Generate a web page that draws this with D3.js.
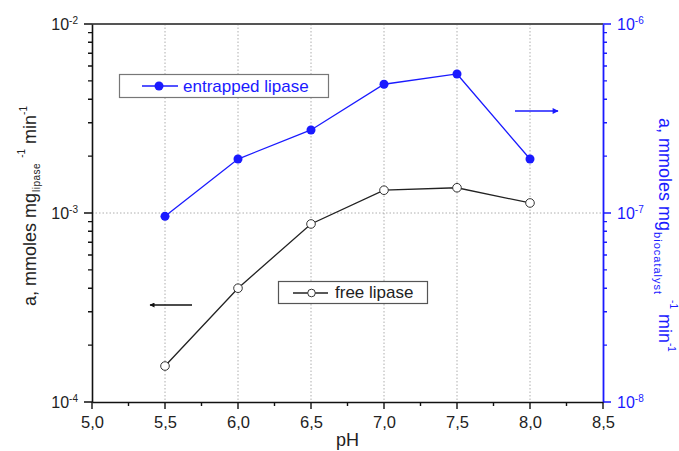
<!DOCTYPE html>
<html><head><meta charset="utf-8">
<script src="https://cdn.jsdelivr.net/npm/d3@7/dist/d3.min.js"></script>
<style>body{margin:0;background:#fff}svg{font-family:"Liberation Sans",Arial,sans-serif}</style>
</head><body><svg id="c" width="679" height="451"></svg>
<script>
const pH = [5.5, 6.0, 6.5, 7.0, 7.5, 8.0];
const freeLipase = [1.55e-4, 4.0e-4, 8.75e-4, 1.32e-3, 1.36e-3, 1.13e-3];
const entrappedLipase = [9.6e-8, 1.93e-7, 2.75e-7, 4.8e-7, 5.44e-7, 1.93e-7];
const xTicks = [5.0, 5.5, 6.0, 6.5, 7.0, 7.5, 8.0, 8.5];
const xMinor = [5.25, 5.75, 6.25, 6.75, 7.25, 7.75, 8.25];
const leftTicks = [1e-4, 1e-3, 1e-2];
const rightTicks = [1e-8, 1e-7, 1e-6];

const svg = d3.select("#c");
const L = 92, R = 603, T = 24, B = 402;
const x = d3.scaleLinear().domain([5, 8.5]).range([L, R]);
const yL = d3.scaleLog().domain([1e-4, 1e-2]).range([B, T]);
const yR = d3.scaleLog().domain([1e-8, 1e-6]).range([B, T]);
const blue = "#1a1aff";

function minorLog(dom) {
  const out = [];
  const a = Math.round(Math.log10(dom[0])), b = Math.round(Math.log10(dom[1]));
  for (let e = a; e < b; e++) for (let m = 2; m <= 9; m++) out.push(m * Math.pow(10, e));
  return out;
}
function supFmt(sel) {
  sel.each(function(d){
    const t = d3.select(this).text(null);
    t.append("tspan").text("10");
    t.append("tspan").attr("dy", "-0.55em").attr("font-size", "10px").text(Math.round(Math.log10(d)));
  });
}

// grid
const g = svg.append("g");
g.selectAll(".vg").data(pH).enter().append("line")
  .attr("x1", d => x(d)).attr("x2", d => x(d)).attr("y1", T).attr("y2", B)
  .attr("stroke", "#999").attr("stroke-width", 0.8).attr("stroke-dasharray", "1.5,2");
g.append("line").attr("x1", L).attr("x2", R).attr("y1", yL(1e-3)).attr("y2", yL(1e-3))
  .attr("stroke", "#999").attr("stroke-width", 0.8).attr("stroke-dasharray", "1.5,2");

// tick marks (scale-positioned)
const tk = svg.append("g");
function tickPath(pts) { return pts.map(p => `M${p[0]},${p[1]}L${p[2]},${p[3]}`).join(""); }
tk.append("path").attr("fill", "none").attr("stroke", "#111").attr("stroke-width", 1.4)
  .attr("d", tickPath(leftTicks.map(d => [L, yL(d), L - 8, yL(d)])
    .concat(minorLog(yL.domain()).map(d => [L, yL(d), L - 4, yL(d)]))
    .concat(xTicks.map(d => [x(d), B, x(d), B + 7]))
    .concat(xMinor.map(d => [x(d), B, x(d), B + 4]))));
tk.append("path").attr("fill", "none").attr("stroke", blue).attr("stroke-width", 1.4)
  .attr("d", tickPath(rightTicks.map(d => [R, yR(d), R + 8, yR(d)])
    .concat(minorLog(yR.domain()).map(d => [R, yR(d), R + 4, yR(d)]))));

// top border
svg.append("line").attr("x1", L).attr("x2", R).attr("y1", T).attr("y2", T).attr("stroke", "#555").attr("stroke-width", 2.2);

// left axis (labels + domain)
const la = svg.append("g").attr("transform", `translate(${L},0)`);
la.call(d3.axisLeft(yL).tickValues(leftTicks).tickSize(0).tickSizeOuter(0).tickPadding(14));
la.selectAll("text").attr("font-size", "16px").attr("fill", "#222").call(supFmt);
la.selectAll("path.domain").attr("stroke", "#111").attr("stroke-width", 1.6);

// right axis
const ra = svg.append("g").attr("transform", `translate(${R},0)`);
ra.call(d3.axisRight(yR).tickValues(rightTicks).tickSize(0).tickSizeOuter(0).tickPadding(14));
ra.selectAll("text").attr("font-size", "16px").attr("fill", blue).call(supFmt);
ra.selectAll("path.domain").attr("stroke", blue).attr("stroke-width", 1.8);

// bottom axis
const ba = svg.append("g").attr("transform", `translate(0,${B})`);
ba.call(d3.axisBottom(x).tickValues(xTicks).tickSize(0).tickSizeOuter(0).tickPadding(14)
  .tickFormat(d => d3.format(".1f")(d).replace(".", ",")));
ba.selectAll("text").attr("font-size", "16.5px").attr("fill", "#222");
ba.selectAll("path.domain").attr("stroke", "#111").attr("stroke-width", 1.6);

// series
const lineL = d3.line().x((d,i) => x(pH[i])).y(d => yL(d));
const lineR = d3.line().x((d,i) => x(pH[i])).y(d => yR(d));
svg.append("path").attr("d", lineL(freeLipase)).attr("fill", "none").attr("stroke", "#222").attr("stroke-width", 1.3);
svg.selectAll(".fp").data(freeLipase).enter().append("circle")
  .attr("cx", (d,i) => x(pH[i])).attr("cy", d => yL(d)).attr("r", 4.3)
  .attr("fill", "#fff").attr("stroke", "#333").attr("stroke-width", 1);
svg.append("path").attr("d", lineR(entrappedLipase)).attr("fill", "none").attr("stroke", blue).attr("stroke-width", 1.3);
svg.selectAll(".ep").data(entrappedLipase).enter().append("circle")
  .attr("cx", (d,i) => x(pH[i])).attr("cy", d => yR(d)).attr("r", 4.5).attr("fill", blue);

// legends
const lg1 = svg.append("g");
lg1.append("rect").attr("x", 119.5).attr("y", 74.5).attr("width", 209).attr("height", 23)
  .attr("fill", "#fff").attr("stroke", "#777").attr("stroke-width", 1.2);
lg1.append("line").attr("x1", 142).attr("x2", 178).attr("y1", 86).attr("y2", 86).attr("stroke", blue).attr("stroke-width", 1.3);
lg1.append("circle").attr("cx", 159).attr("cy", 86).attr("r", 4.5).attr("fill", blue);
lg1.append("text").attr("x", 183).attr("y", 91.5).attr("font-size", "17px").attr("fill", blue).text("entrapped lipase");

const lg2 = svg.append("g");
lg2.append("rect").attr("x", 278.5).attr("y", 281.5).attr("width", 149).attr("height", 22)
  .attr("fill", "#fff").attr("stroke", "#555").attr("stroke-width", 1.2);
lg2.append("line").attr("x1", 293).attr("x2", 328).attr("y1", 293).attr("y2", 293).attr("stroke", "#222").attr("stroke-width", 1.3);
lg2.append("circle").attr("cx", 311.5).attr("cy", 293).attr("r", 3.8).attr("fill", "#fff").attr("stroke", "#333");
lg2.append("text").attr("x", 335).attr("y", 298).attr("font-size", "17px").attr("fill", "#222").text("free lipase");

// arrows
const defs = svg.append("defs");
defs.append("marker").attr("id", "ab").attr("viewBox", "0 0 10 10").attr("refX", 9).attr("refY", 5)
  .attr("markerWidth", 6).attr("markerHeight", 5).attr("markerUnits", "userSpaceOnUse").attr("orient", "auto")
  .append("path").attr("d", "M0,0L10,5L0,10z").attr("fill", "#111");
defs.append("marker").attr("id", "ar").attr("viewBox", "0 0 10 10").attr("refX", 9).attr("refY", 5)
  .attr("markerWidth", 9).attr("markerHeight", 6).attr("markerUnits", "userSpaceOnUse").attr("orient", "auto")
  .append("path").attr("d", "M0,0L10,5L0,10z").attr("fill", blue);
svg.append("line").attr("x1", 192).attr("x2", 150).attr("y1", 305).attr("y2", 305)
  .attr("stroke", "#111").attr("stroke-width", 1.3).attr("marker-end", "url(#ab)");
svg.append("line").attr("x1", 515).attr("x2", 558).attr("y1", 111).attr("y2", 111)
  .attr("stroke", blue).attr("stroke-width", 1.6).attr("marker-end", "url(#ar)");

// axis titles
const yl = svg.append("text").attr("transform", "translate(36,206) rotate(-90)").attr("text-anchor", "middle")
  .attr("font-size", "18px").attr("fill", "#222");
yl.append("tspan").text("a, mmoles mg");
yl.append("tspan").attr("font-size", "10px").attr("dy", "4").attr("dx", "1").attr("letter-spacing", "0.5").text("lipase");
yl.append("tspan").attr("font-size", "10px").attr("dy", "-15").attr("dx", "5").text("-1");
yl.append("tspan").attr("dy", "11").attr("dx", "5").text("min");
yl.append("tspan").attr("font-size", "10px").attr("dy", "-9").text("-1");

const yr = svg.append("text").attr("transform", "translate(659,235) rotate(90)").attr("text-anchor", "middle")
  .attr("font-size", "18px").attr("fill", blue);
yr.append("tspan").text("a, mmoles mg");
yr.append("tspan").attr("font-size", "11px").attr("dy", "5").attr("dx", "1").attr("letter-spacing", "1").text("biocatalyst");
yr.append("tspan").attr("font-size", "10px").attr("dy", "-16").attr("dx", "5").text("-1");
yr.append("tspan").attr("dy", "11").attr("dx", "5").text("min");
yr.append("tspan").attr("font-size", "10px").attr("dy", "-9").text("-1");

svg.append("text").attr("x", x(6.75)).attr("y", 446).attr("text-anchor", "middle").attr("font-size", "18px").attr("fill", "#222").text("pH");
</script></body></html>
